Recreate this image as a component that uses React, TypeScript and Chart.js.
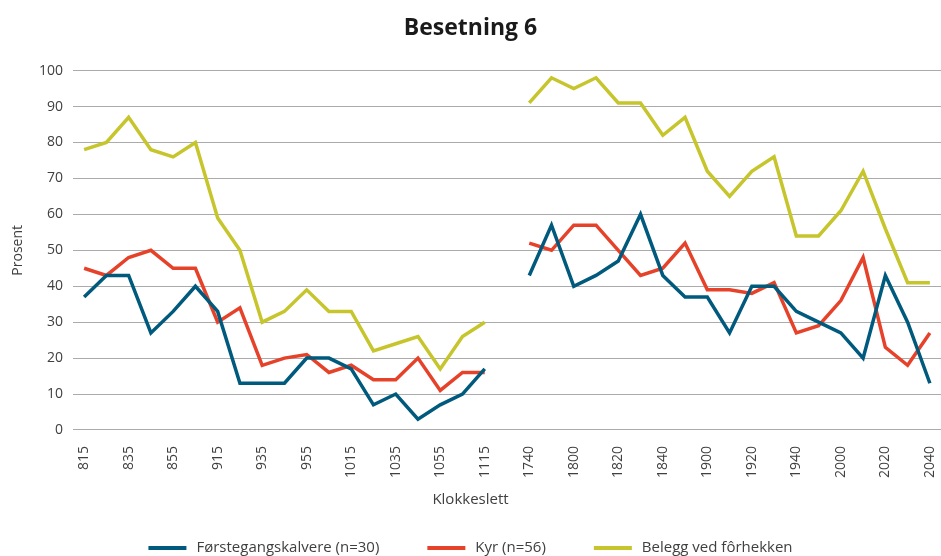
import React, { useEffect, useRef } from "react";
import { Chart, registerables } from "chart.js";

Chart.register(...registerables);

const categories: string[] = [
  "815", "825", "835", "845", "855", "905", "915", "925", "935", "945",
  "955", "1005", "1015", "1025", "1035", "1045", "1055", "1105", "1115",
  "",
  "1740", "1750", "1800", "1810", "1820", "1830", "1840", "1850", "1900", "1910",
  "1920", "1930", "1940", "1950", "2000", "2010", "2020", "2030", "2040",
];

const forstegangskalvere: (number | null)[] = [
  37, 43, 43, 27, 33, 40, 33, 13, 13, 13, 20, 20, 17, 7, 10, 3, 7, 10, 17,
  null,
  43, 57, 40, 43, 47, 60, 43, 37, 37, 27, 40, 40, 33, 30, 27, 20, 43, 30, 13,
];

const kyr: (number | null)[] = [
  45, 43, 48, 50, 45, 45, 30, 34, 18, 20, 21, 16, 18, 14, 14, 20, 11, 16, 16,
  null,
  52, 50, 57, 57, 50, 43, 45, 52, 39, 39, 38, 41, 27, 29, 36, 48, 23, 18, 27,
];

const belegg: (number | null)[] = [
  78, 80, 87, 78, 76, 80, 59, 50, 30, 33, 39, 33, 33, 22, 24, 26, 17, 26, 30,
  null,
  91, 98, 95, 98, 91, 91, 82, 87, 72, 65, 72, 76, 54, 54, 61, 72, 56, 41, 41,
];

const seriesNames = ["Førstegangskalvere (n=30)", "Kyr (n=56)", "Belegg ved fôrhekken"];
const seriesColors = ["#005a7d", "#e6422a", "#c6c52c"];
const xTitle = "Klokkeslett";

const FONT = "'Open Sans', 'Noto Sans', sans-serif";
const TEXT = "#404040";

const legendPlugin = {
  id: "bottomLegend",
  afterDraw(chart: any) {
    const ctx = chart.ctx as CanvasRenderingContext2D;
    ctx.save();
    // x-axis title, centred on the whole chart
    ctx.font = `15px ${FONT}`;
    ctx.fillStyle = TEXT;
    ctx.textAlign = "center";
    ctx.textBaseline = "middle";
    ctx.fillText(xTitle, chart.width / 2, chart.height - 56);

    // legend
    ctx.font = `15px ${FONT}`;
    const sampleW = 38;
    const sampleGap = 10;
    const itemGap = 48;
    const items = chart.data.datasets.map((d: any) => ({
      label: d.label as string,
      color: d.borderColor as string,
      w: ctx.measureText(d.label).width,
    }));
    const total =
      items.reduce((s: number, it: any) => s + sampleW + sampleGap + it.w, 0) +
      itemGap * (items.length - 1);
    let x = (chart.width - total) / 2;
    const y = chart.height - 8;
    ctx.textAlign = "left";
    for (const it of items) {
      ctx.strokeStyle = it.color;
      ctx.lineWidth = 4;
      ctx.lineCap = "butt";
      ctx.beginPath();
      ctx.moveTo(x, y);
      ctx.lineTo(x + sampleW, y);
      ctx.stroke();
      x += sampleW + sampleGap;
      ctx.fillStyle = TEXT;
      ctx.fillText(it.label, x, y);
      x += it.w + itemGap;
    }
    ctx.restore();
  },
};

export default function App() {
  const canvasRef = useRef<HTMLCanvasElement | null>(null);

  useEffect(() => {
    document.body.style.overflow = "hidden";
    const canvas = canvasRef.current;
    if (!canvas) return;
    const values = [forstegangskalvere, kyr, belegg];
    const chart = new Chart(canvas, {
      type: "line",
      data: {
        labels: categories,
        datasets: values.map((v, i) => ({
          label: seriesNames[i],
          data: v,
          borderColor: seriesColors[i],
          backgroundColor: seriesColors[i],
          borderWidth: 3.5,
          pointRadius: 0,
          pointHoverRadius: 0,
          tension: 0,
          spanGaps: false,
          borderJoinStyle: "miter" as const,
          fill: false,
        })),
      },
      options: {
        responsive: false,
        animation: false,
        layout: { padding: { left: 0, right: 0, top: 0, bottom: 70 } },
        plugins: {
          legend: { display: false },
          tooltip: { enabled: false },
          title: {
            display: true,
            text: "Besetning 6",
            color: "#1a1a1a",
            font: { family: FONT, size: 23, weight: "bold" },
            padding: { top: 15, bottom: 28 },
          },
        },
        scales: {
          x: {
            offset: true,
            grid: { display: false },
            border: { display: false },
            ticks: {
              autoSkip: false,
              minRotation: 90,
              maxRotation: 90,
              padding: 8,
              color: TEXT,
              font: { family: FONT, size: 14 },
              callback: (_v: any, i: number) => (i % 2 === 0 ? categories[i] : ""),
            },
            title: { display: false },
            afterFit: (s: any) => {
              s.paddingRight = 0;
            },
          },
          y: {
            min: 0,
            max: 100,
            border: { display: false },
            grid: { color: "#ababab", lineWidth: 1, drawTicks: false },
            ticks: {
              stepSize: 10,
              padding: 10,
              color: TEXT,
              font: { family: FONT, size: 14 },
            },
            title: {
              display: true,
              text: "Prosent",
              color: TEXT,
              font: { family: FONT, size: 14 },
              padding: { top: 10, bottom: 0 },
            },
            afterFit: (s: any) => {
              s.width = 73;
            },
          },
        },
      },
      plugins: [legendPlugin],
    });
    return () => chart.destroy();
  }, []);

  return (
    <div style={{ position: "fixed", left: 0, top: 0, width: 941, height: 556, background: "#fff" }}>
      <canvas ref={canvasRef} width={941} height={556} />
    </div>
  );
}
